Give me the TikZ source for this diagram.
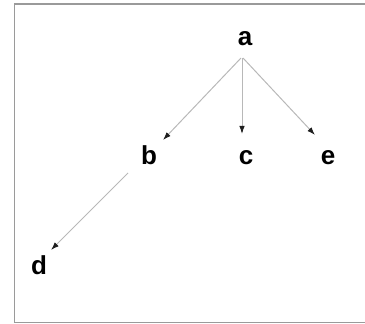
\documentclass[tikz,border=0pt]{standalone}
\usepackage{fontspec}
\setmainfont{Liberation Sans}
\usepackage{tikz}
\usetikzlibrary{arrows.meta,calc}
\definecolor{FrameGray}{HTML}{9A9A9A}
\definecolor{EdgeGray}{HTML}{B8B8B8}
\definecolor{TipDark}{HTML}{1E1E1E}

\begin{document}
\begin{tikzpicture}[
  x=1pt, y=1pt,
  font=\fontsize{26}{31}\selectfont\bfseries,
  leaf/.style={inner sep=0pt, anchor=base},
  frame/.style={draw=FrameGray, line width=1.3pt},
  edge/.style={draw=EdgeGray, line width=1pt, -{Latex[length=8pt,width=5.5pt,color=TipDark]}}
]
\useasboundingbox (0,0) rectangle (365,324);
\clip (0,0) rectangle (365,324);
\draw[frame] (14.5,1.5) rectangle (380,320);

\node[leaf] (a) at (245,278) {a};
\node[leaf] (b) at (149,159) {b};
\node[leaf] (c) at (246,159) {c};
\node[leaf] (e) at (328,159) {e};
\node[leaf] (d) at (39,49) {d};

\draw[edge] ($(a.base)+(-4,-12)$) -- ($(b.base)+(14,25)$);
\draw[edge] ($(a.base)+(-3,-12)$) -- ($(c.base)+(-4,31)$);
\draw[edge] ($(a.base)+(-2,-12)$) -- ($(e.base)+(-13,30)$);
\draw[edge] ($(b.base)+(-21,-8)$) -- ($(d.base)+(12,25)$);

\end{tikzpicture}
\end{document}
